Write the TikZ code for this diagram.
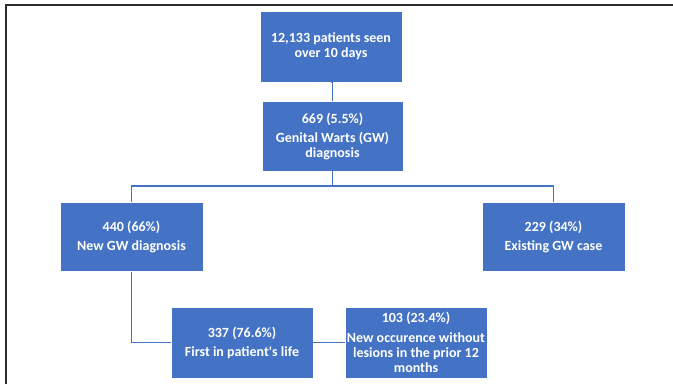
\documentclass[tikz,border=0pt]{standalone}
\usepackage{fontspec}
\setmainfont{Carlito}
\usepackage{tikz}
\usetikzlibrary{positioning, arrows.meta}
\definecolor{boxcolor}{RGB}{68,114,196}
\definecolor{framecolor}{RGB}{45,45,45}

\begin{document}
\begin{tikzpicture}[
    x=1pt, y=1pt,
    stage/.style={draw=white, line width=0.8pt, fill=boxcolor, text=white, align=center,
        minimum width=142pt, minimum height=70pt, inner sep=1pt,
        font=\fontsize{14}{15}\selectfont\bfseries},
    link/.style={-, draw=boxcolor, line width=1.5pt},
    frame/.style={draw=framecolor, line width=1.6pt}
]
    \useasboundingbox (0,0) rectangle (673,384);
    % Frame
    \draw[frame] (6,0) -- (6,379) -- (673,379);

    % Top
    \node[stage, minimum width=142pt, minimum height=71pt] (seen) at (331,337.5) {12,133 patients seen\\over 10 days};
    \node[stage, minimum width=141pt] (gw) at (332.5,248) {669 (5.5\%)\\[4pt]Genital Warts (GW)\\diagnosis};

    % Split
    \node[stage, minimum width=143pt, minimum height=69pt] (new) at (131.5,147) {440 (66\%)\\[4pt]New GW diagnosis};
    \node[stage, minimum width=143pt, minimum height=69pt] (existing) at (553.5,147) {229 (34\%)\\[4pt]Existing GW case};

    % Bottom
    \node[stage, minimum height=71pt] (first) at (242,41.5) {337 (76.6\%)\\[4pt]First in patient\textquotesingle s life};
    \node[stage, minimum height=71pt] (recur) at (416,41.5) {103 (23.4\%)\\[5pt]New occurence without\\lesions in the prior 12\\months};

    % Connectors
    \coordinate (split) at (332.5,198);
    \draw[link] (seen.south) -| (gw.north);
    \draw[link] (gw.south) -- (split) -| (new.north);
    \draw[link] (split) -| (existing.north);
    \draw[link] (new.south) |- (first.west);
    \draw[link] (first.east) -- (recur.west);
\end{tikzpicture}
\end{document}
